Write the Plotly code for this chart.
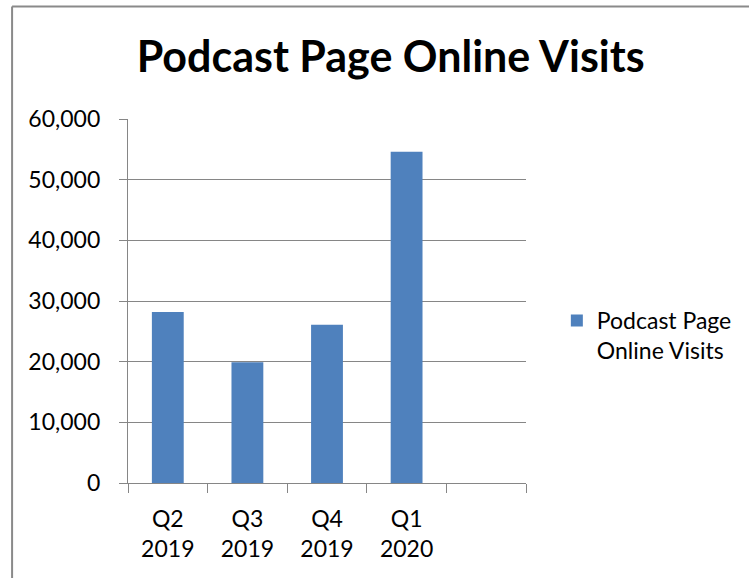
import plotly.graph_objects as go

# Data
categories = ["Q2<br>2019", "Q3<br>2019", "Q4<br>2019", "Q1<br>2020"]
extra_slot = [" "]
visits = [28200, 19900, 26100, 54600]
series_name = "Podcast Page<br>Online Visits"
title_text = "Podcast Page Online Visits"
y_ticks = [0, 10000, 20000, 30000, 40000, 50000, 60000]

W, H = 749, 578
L, R, T, B = 128, 528, 119, 483  # plot area in pixels

def px_x(px):
    return (px - L) / (R - L)

def px_y(py):
    return (B - py) / (B - T)

grey = "#868686"
bar_col = "#4F81BD"
font_main = "Lato, Liberation Sans, sans-serif"

fig = go.Figure()
fig.add_trace(go.Bar(
    x=categories, y=visits, name=series_name,
    marker=dict(color=bar_col, line=dict(width=0)),
    showlegend=True,
))

fig.update_layout(
    width=W, height=H,
    margin=dict(l=L, r=W - R, t=T, b=H - B, pad=0),
    paper_bgcolor="white", plot_bgcolor="white",
    bargap=0.6,
    showlegend=True,
    title=dict(
        text="<b>" + title_text + "</b>",
        font=dict(family="Lato, DejaVu Sans Condensed", size=43, color="black"),
        x=px_x(392), xref="paper", xanchor="center",
        y=1 - 57 / H, yref="container", yanchor="middle",
    ),
    font=dict(family=font_main, size=23, color="black"),
    legend=dict(
        x=px_x(559), xanchor="left",
        y=px_y(299), yanchor="top",
        font=dict(family=font_main, size=23, color="black"),
        valign="top",
        bgcolor="rgba(0,0,0,0)",
    ),
    xaxis=dict(
        type="category",
        categoryorder="array",
        categoryarray=categories + extra_slot,
        range=[-0.5, 4.5],
        showline=True, linecolor=grey, linewidth=1.3,
        ticks="outside", ticklen=9, tickcolor=grey, tickwidth=1.3,
        tickson="boundaries",
        showgrid=False,
        tickfont=dict(family=font_main, size=23, color="black"),
        ticklabelstandoff=15,
        fixedrange=True,
    ),
    yaxis=dict(
        range=[0, 60000],
        tickvals=y_ticks,
        tickformat=",",
        showline=True, linecolor=grey, linewidth=1.3,
        ticks="outside", ticklen=8, tickcolor=grey, tickwidth=1.3,
        showgrid=True, gridcolor=grey, gridwidth=1.3,
        zeroline=False,
        tickfont=dict(family=font_main, size=23, color="black"),
        ticklabelstandoff=14,
        fixedrange=True,
    ),
    shapes=[
        dict(type="line", xref="paper", yref="paper",
             x0=px_x(11.5), x1=px_x(11.5), y0=px_y(585), y1=px_y(6.5),
             line=dict(color="#8a8a8a", width=2)),
        dict(type="line", xref="paper", yref="paper",
             x0=px_x(11.5), x1=px_x(760), y0=px_y(6.5), y1=px_y(6.5),
             line=dict(color="#8a8a8a", width=2)),
    ],
)

fig.write_html(
    "out.html",
    config=dict(displayModeBar=False),
    post_script="document.body.style.margin='0';document.body.style.overflow='hidden';",
)
